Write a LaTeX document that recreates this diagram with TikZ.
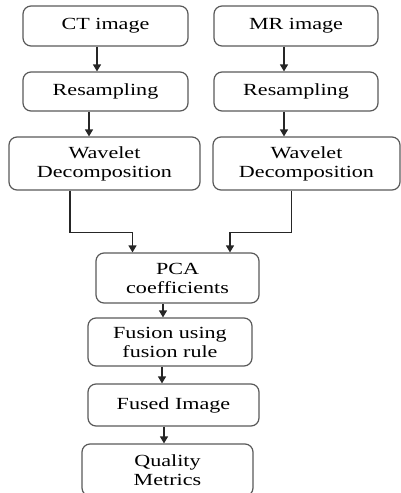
\documentclass[tikz,border=0pt]{standalone}
\usepackage{fontspec}
\setmainfont{Liberation Serif}[FakeStretch=1.3]
\usetikzlibrary{positioning, arrows.meta, calc}
\tikzset{
	stepbox/.style={rectangle, draw=black!65, line width=1.2pt, rounded corners=8pt,
		minimum height=40pt, align=center, font=\fontsize{17}{19}\selectfont, inner sep=2pt},
	flowarr/.style={-{Triangle[length=7pt,width=8pt]}, line width=1.2pt, draw=black!85}
}
\begin{document}
\begin{tikzpicture}[x=1pt,y=-1pt]
			\useasboundingbox (0,0) rectangle (401,493);
			% two input branches
			\node[stepbox, minimum width=165pt] (ct) at (105.5,26) {CT image};
			\node[stepbox, minimum width=164pt] (mr) at (296,26) {MR image};
			\node[stepbox, minimum width=165pt, minimum height=39pt] (rsl) at (105.5,91.5) {Resampling};
			\node[stepbox, minimum width=164pt, minimum height=39pt] (rsr) at (296,91.5) {Resampling};
			\node[stepbox, minimum width=191pt, minimum height=53pt] (wdl) at (104.5,163.5) {Wavelet\\Decomposition};
			\node[stepbox, minimum width=187pt, minimum height=53pt] (wdr) at (306.5,163.5) {Wavelet\\Decomposition};
			% merged chain
			\node[stepbox, minimum width=163pt, minimum height=50pt] (pca) at (177.5,278) {PCA\\coefficients};
			\node[stepbox, minimum width=164pt, minimum height=48pt] (fus) at (170,342) {Fusion using\\fusion rule};
			\node[stepbox, minimum width=171pt, minimum height=42pt] (fim) at (173.5,405) {Fused Image};
			\node[stepbox, minimum width=171pt, minimum height=52pt] (qm) at (167.5,470) {Quality\\Metrics};
			\coordinate (a1) at ($(ct.south)+(-8.5,0)$);
			\coordinate (a2) at ($(rsl.south)+(-16.5,0)$);
			\coordinate (a3) at ($(mr.south)+(-12,0)$);
			\coordinate (a4) at ($(rsr.south)+(-12,0)$);
			\coordinate (wl) at ($(wdl.south)+(-34.5,0)$);
			\coordinate (wr) at ($(wdr.south)+(-15,0)$);
			\coordinate (pl) at ($(pca.north)+(-45,0)$);
			\coordinate (pr) at ($(pca.north)+(52.5,0)$);
			\coordinate (a5) at ($(pca.south)+(-14.5,0)$);
			\coordinate (a6) at ($(fus.south)+(-8,0)$);
			\coordinate (a7) at ($(fim.south)+(-9.5,0)$);
			\draw[flowarr] (a1) -- (a1 |- rsl.north);
			\draw[flowarr] (a2) -- (a2 |- wdl.north);
			\draw[flowarr] (a3) -- (a3 |- rsr.north);
			\draw[flowarr] (a4) -- (a4 |- wdr.north);
			\draw[flowarr] (wl) |- ($(pl)+(0,-20)$) -- (pl);
			\draw[flowarr] (wr) |- ($(pr)+(0,-20)$) -- (pr);
			\draw[flowarr] (a5) -- (a5 |- fus.north);
			\draw[flowarr] (a6) -- (a6 |- fim.north);
			\draw[flowarr] (a7) -- (a7 |- qm.north);
		\end{tikzpicture}
\end{document}
